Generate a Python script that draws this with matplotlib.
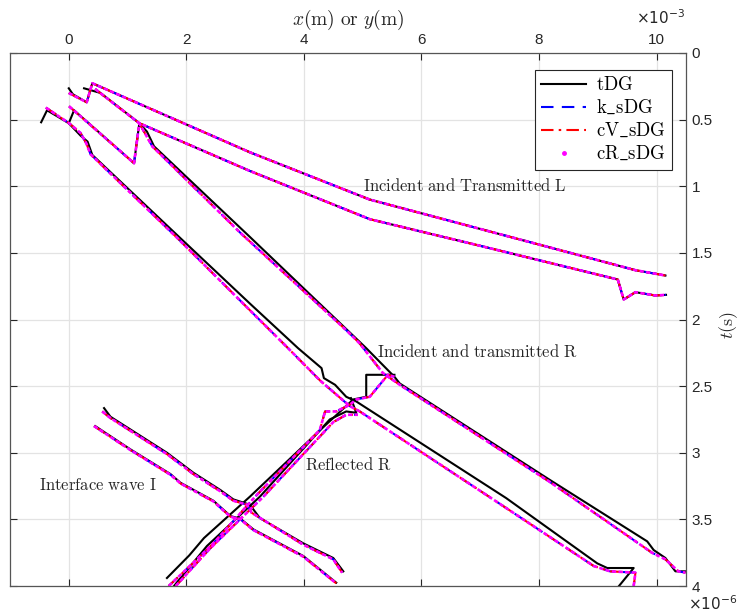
import numpy as np
import matplotlib
matplotlib.use('Agg')
import matplotlib.pyplot as plt
from matplotlib.lines import Line2D
from matplotlib.ticker import FuncFormatter

plt.rcParams['mathtext.fontset'] = 'cm'
plt.rcParams['font.family'] = ['Liberation Sans', 'DejaVu Sans']

# wave fronts: x in 1e-3 m, t in 1e-6 s
# tDG fronts
a1_t_x = [0.0, 0.07, 0.305, 0.40, 3.08, 5.12, 9.64, 10.15]
a1_t_t = [0.265, 0.31, 0.37, 0.227, 0.745, 1.10, 1.63, 1.67]
a2_t_x = [0.26, 0.54, 0.70, 1.20, 3.08, 5.12, 6.98, 9.34, 9.44, 9.64, 9.98, 10.16]
a2_t_t = [0.265, 0.30, 0.355, 0.527, 0.885, 1.247, 1.445, 1.70, 1.85, 1.795, 1.82, 1.815]
b1_t_x = [-0.47, -0.37, 0.0, 0.20, 0.32, 0.40, 1.90, 3.08, 3.90, 4.30, 4.34, 4.53, 4.72, 4.89,
          7.44, 8.99, 9.16, 9.61, 9.36]
b1_t_t = [0.52, 0.43, 0.527, 0.62, 0.665, 0.765, 1.39, 1.88, 2.215, 2.365, 2.44, 2.49, 2.58, 2.615,
          3.34, 3.83, 3.865, 3.865, 4.0]
b2_t_x = [0.0, 0.09, 1.11, 1.20, 1.33, 1.45, 3.08, 5.06, 5.54, 5.63, 8.17, 9.84, 9.95, 10.15, 10.32, 10.49]
b2_t_t = [0.527, 0.43, 0.827, 0.527, 0.59, 0.70, 1.38, 2.215, 2.43, 2.48, 3.20, 3.665, 3.73, 3.79, 3.89, 3.89]
d1_t_x = [1.67, 2.05, 2.30, 3.08, 4.30, 4.84, 5.06, 5.06, 5.54]
d1_t_t = [3.94, 3.77, 3.64, 3.33, 2.82, 2.60, 2.58, 2.415, 2.415]
d2_t_x = [1.79, 2.35, 3.25, 4.44, 4.72, 4.89, 4.80]
d2_t_t = [4.0, 3.70, 3.33, 2.75, 2.69, 2.70, 2.59]
e1_t_x = [0.60, 0.71, 1.67, 2.12, 2.58, 2.80, 3.08, 3.25, 3.99, 4.50, 4.67]
e1_t_t = [2.665, 2.73, 3.00, 3.15, 3.28, 3.35, 3.39, 3.49, 3.68, 3.79, 3.89]
e2_t_x = [0.45, 1.05, 1.73, 1.90, 2.46, 2.75, 2.92, 3.14, 3.99, 4.55]
e2_t_t = [2.80, 2.975, 3.16, 3.225, 3.36, 3.475, 3.495, 3.575, 3.775, 3.975]

# sDG fronts (k, cV and cR lie on top of each other)
a1_s_x = [0.0, 0.305, 0.40, 3.08, 5.12, 9.64, 10.15]
a1_s_t = [0.30, 0.37, 0.227, 0.745, 1.10, 1.63, 1.67]
a2_s_x = [0.45, 0.62, 1.20, 3.08, 5.12, 6.98, 9.34, 9.44, 9.64, 9.98, 10.16]
a2_s_t = [0.27, 0.33, 0.527, 0.885, 1.247, 1.445, 1.70, 1.85, 1.795, 1.82, 1.815]
b1_s_x = [-0.39, 0.005, 0.20, 0.30, 0.37, 1.85, 3.08, 3.73, 4.28, 4.78, 4.95, 7.15, 8.93, 9.21, 9.64, 9.61]
b1_s_t = [0.41, 0.527, 0.60, 0.68, 0.76, 1.39, 1.93, 2.215, 2.46, 2.65, 2.69, 3.33, 3.85, 3.89, 3.90, 4.0]
b2_s_x = [0.005, 1.11, 1.20, 1.42, 2.92, 4.72, 4.95, 5.34, 5.63, 8.17, 9.92, 10.15, 10.37, 10.49]
b2_s_t = [0.40, 0.827, 0.527, 0.70, 1.35, 2.08, 2.18, 2.40, 2.49, 3.215, 3.75, 3.80, 3.89, 3.90]
d1_s_x = [1.70, 2.18, 2.46, 3.17, 4.27, 4.36, 4.55, 4.78, 4.89, 5.12, 5.43, 5.54]
d1_s_t = [4.0, 3.80, 3.68, 3.33, 2.83, 2.69, 2.69, 2.64, 2.60, 2.58, 2.415, 2.43]
d2_s_x = [1.82, 2.40, 3.31, 4.50, 4.72, 4.92]
d2_s_t = [4.0, 3.72, 3.33, 2.77, 2.715, 2.715]
e1_s_x = [0.57, 0.71, 1.67, 2.12, 2.58, 2.80, 3.03, 3.11, 3.99, 4.50, 4.65]
e1_s_t = [2.69, 2.74, 3.01, 3.16, 3.29, 3.36, 3.39, 3.45, 3.69, 3.80, 3.90]
e2_s_x = [0.43, 1.05, 1.73, 1.90, 2.46, 2.75, 2.92, 3.14, 3.99, 4.55]
e2_s_t = [2.80, 2.98, 3.165, 3.23, 3.365, 3.48, 3.50, 3.58, 3.78, 3.98]

tdg_fronts = [(a1_t_x, a1_t_t), (a2_t_x, a2_t_t), (b1_t_x, b1_t_t), (b2_t_x, b2_t_t),
              (d1_t_x, d1_t_t), (d2_t_x, d2_t_t), (e1_t_x, e1_t_t), (e2_t_x, e2_t_t)]
sdg_fronts = [(a1_s_x, a1_s_t), (a2_s_x, a2_s_t), (b1_s_x, b1_s_t), (b2_s_x, b2_s_t),
              (d1_s_x, d1_s_t), (d2_s_x, d2_s_t), (e1_s_x, e1_s_t), (e2_s_x, e2_s_t)]

series_names = [r'$\mathrm{tDG}$', r'$\mathrm{k\_sDG}$', r'$\mathrm{cV\_sDG}$', r'$\mathrm{cR\_sDG}$']
series_fronts = [tdg_fronts, sdg_fronts, sdg_fronts, sdg_fronts]
series_styles = [dict(color='black', ls='-', lw=1.5),
                 dict(color='blue', ls=(0, (6, 4)), lw=1.5),
                 dict(color='red', ls=(0, (6, 2.5, 1.2, 2.5)), lw=1.5),
                 dict(color='magenta', ls=(0, (1.6, 0.9)), lw=1.9)]

labels = [r'$\mathrm{Incident\ and\ Transmitted\ L}$', r'$\mathrm{Incident\ and\ transmitted\ R}$',
          r'$\mathrm{Reflected\ R}$', r'$\mathrm{Interface\ wave\ I}$']
label_x = [5.0, 5.25, 4.02, -0.50]
label_t = [1.035, 2.28, 3.13, 3.28]

fig = plt.figure(figsize=(7.4, 6.16), dpi=100)
ax = fig.add_axes([10 / 740, 30 / 616, 676 / 740, 533 / 616])

for name, fronts, style in zip(series_names, series_fronts, series_styles):
    for fx, ft in fronts:
        ax.plot(np.array(fx) * 1e-3, np.array(ft) * 1e-6, **style)

for txt, lx, lt in zip(labels, label_x, label_t):
    ax.text(lx * 1e-3, lt * 1e-6, txt, fontsize=12, color='#262626', va='baseline', ha='left')

ax.set_xlim(-1e-3, 10.5e-3)
ax.set_ylim(4e-6, 0)
ax.set_xticks(np.arange(0, 11, 2) * 1e-3)
ax.set_yticks(np.arange(0, 4.01, 0.5) * 1e-6)
ax.xaxis.set_major_formatter(FuncFormatter(lambda v, p: f'{v * 1e3:g}'))
ax.yaxis.set_major_formatter(FuncFormatter(lambda v, p: f'{v * 1e6:g}'))
ax.tick_params(direction='in', length=5, width=0.8, top=True, bottom=True, left=True, right=True,
               labeltop=True, labelbottom=False, labelleft=False, labelright=True,
               labelsize=11, colors='#262626', pad=4)
ax.grid(True, color='#e3e3e3', lw=0.9)
ax.set_axisbelow(True)
for sp in ax.spines.values():
    sp.set_color('#555555')
    sp.set_linewidth(0.9)

ax.xaxis.set_label_position('top')
ax.set_xlabel(r'$x\mathrm{(m)\ or\ }y\mathrm{(m)}$', fontsize=14, color='#262626', labelpad=6)
ax.yaxis.set_label_position('right')
ax.set_ylabel(r'$t\mathrm{(s)}$', fontsize=13, color='#262626')
ax.yaxis.set_label_coords(1.046, 0.49)

fig.text(685 / 740, 1 - 18 / 616, r'$\times10^{-3}$', fontsize=11, ha='right', va='center',
         color='#262626', math_fontfamily='dejavusans')
fig.text(688 / 740, 1 - 604 / 616, r'$\times10^{-6}$', fontsize=11, ha='left', va='center',
         color='#262626', math_fontfamily='dejavusans')

handles = [Line2D([], [], **series_styles[0]),
           Line2D([], [], **series_styles[1]),
           Line2D([], [], **series_styles[2]),
           Line2D([], [], color='magenta', ls='none', marker='.', markersize=5)]
leg = ax.legend(handles, series_names, loc='upper right', bbox_to_anchor=(0.979, 0.969),
                borderaxespad=0, fontsize=13.5, handlelength=2.4, handletextpad=0.5,
                framealpha=1, fancybox=False, edgecolor='#262626', borderpad=0.35,
                labelspacing=0.25)
leg.get_frame().set_linewidth(0.8)

fig.savefig('out.png', dpi=100)
